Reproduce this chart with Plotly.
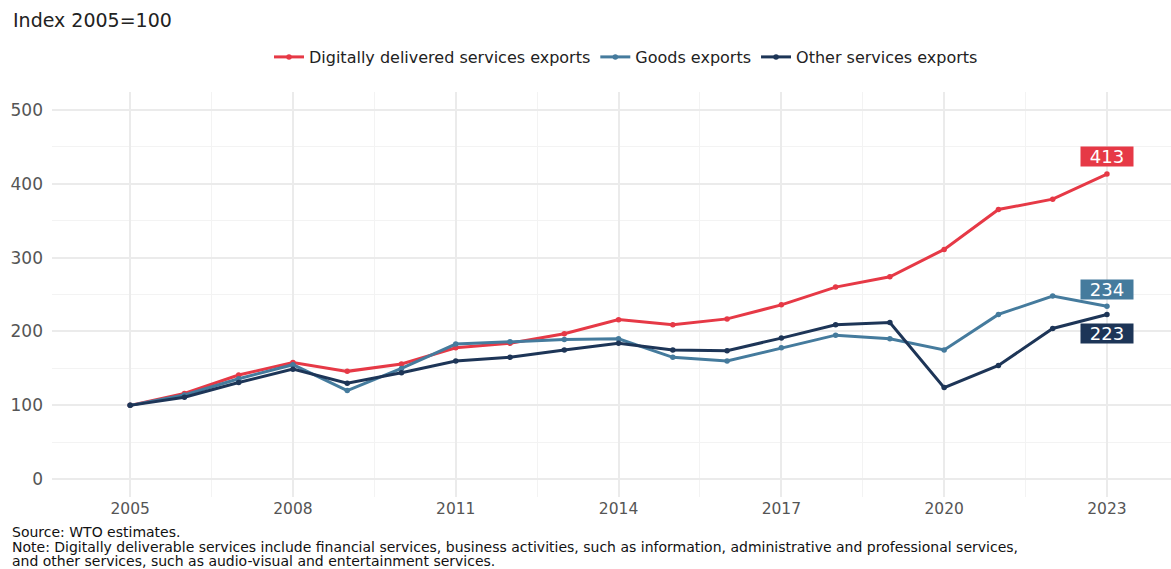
import plotly.graph_objects as go

years = list(range(2005, 2024))

digital_exports = [100, 116, 141, 158, 146, 156, 178, 184, 197, 216, 209, 217,
                   236, 260, 274, 311, 365, 379, 413]
goods_exports = [100, 114, 136, 155, 120, 150, 183, 186, 189, 190, 165, 160,
                 178, 195, 190, 175, 223, 248, 234]
other_services_exports = [100, 111, 131, 149, 130, 144, 160, 165, 175, 184, 175, 174,
                          191, 209, 212, 124, 154, 204, 223]

series_names = ["Digitally delivered services exports", "Goods exports",
                "Other services exports"]
series_values = [digital_exports, goods_exports, other_services_exports]
colors = ["#E63946", "#457B9D", "#1D3557"]
label_shift = [18, 17, -19]

FONT = "DejaVu Sans"

fig = go.Figure()
for name, vals, col in zip(series_names, series_values, colors):
    fig.add_trace(go.Scatter(
        x=years, y=vals, name=name, mode="lines+markers",
        line=dict(color=col, width=3),
        marker=dict(color=col, size=5.5),
    ))

# end-of-line value labels
for vals, col, dy in zip(series_values, colors, label_shift):
    fig.add_annotation(
        x=years[-1], y=vals[-1], xref="x", yref="y",
        text=str(vals[-1]), showarrow=False, yshift=dy,
        font=dict(family=FONT, size=18, color="white"),
        bgcolor=col, borderpad=1, width=50, height=17,
    )

W, H = 1171, 569
L, R, T, B = 52, 0, 92, 72
plot_h = H - T - B


def paper_y(px):
    return (H - B - px) / plot_h


def paper_x(px):
    return (px - L) / (W - L - R)


fig.add_annotation(
    x=paper_x(11), y=paper_y(20), xref="paper", yref="paper",
    xanchor="left", yanchor="middle", showarrow=False,
    text="Index 2005=100", font=dict(family=FONT, size=19, color="#222222"),
)

footer = [
    "Source: WTO estimates.",
    "Note: Digitally deliverable services include financial services, business activities, "
    "such as information, administrative and professional services,",
    "and other services, such as audio-visual and entertainment services.",
]
for i, line in enumerate(footer):
    fig.add_annotation(
        x=paper_x(11), y=paper_y(532 + 14.5 * i), xref="paper", yref="paper",
        xanchor="left", yanchor="middle", showarrow=False, borderpad=0,
        text=line, font=dict(family=FONT, size=14, color="#111111"),
    )

fig.update_layout(
    width=W, height=H,
    margin=dict(l=L, r=R, t=T, b=B),
    plot_bgcolor="white", paper_bgcolor="white",
    font=dict(family=FONT, size=16, color="#222222"),
    showlegend=True,
    legend=dict(
        orientation="h", xref="container", yref="container",
        x=626 / W, y=1 - 57 / H, xanchor="center", yanchor="middle",
        font=dict(family=FONT, size=16, color="#222222"),
        itemwidth=30,
    ),
    xaxis=dict(
        range=[2003.56, 2024.18], tickmode="linear", tick0=2005, dtick=3,
        showgrid=True, gridcolor="#EBEBEB", gridwidth=1.6,
        minor=dict(tick0=2005, dtick=1.5, showgrid=True, gridcolor="#F3F3F3", gridwidth=1.2),
        zeroline=False, showline=False, ticks="",
        tickfont=dict(family=FONT, size=15.5, color="#555555"),
    ),
    yaxis=dict(
        range=[-24, 524], tickmode="linear", tick0=0, dtick=100,
        showgrid=True, gridcolor="#EBEBEB", gridwidth=1.6,
        minor=dict(tick0=0, dtick=50, showgrid=True, gridcolor="#F3F3F3", gridwidth=1.2),
        zeroline=False, showline=False, ticks="", ticklabelstandoff=8,
        tickfont=dict(family=FONT, size=17, color="#555555"),
    ),
)

fig.write_html("out.html")
